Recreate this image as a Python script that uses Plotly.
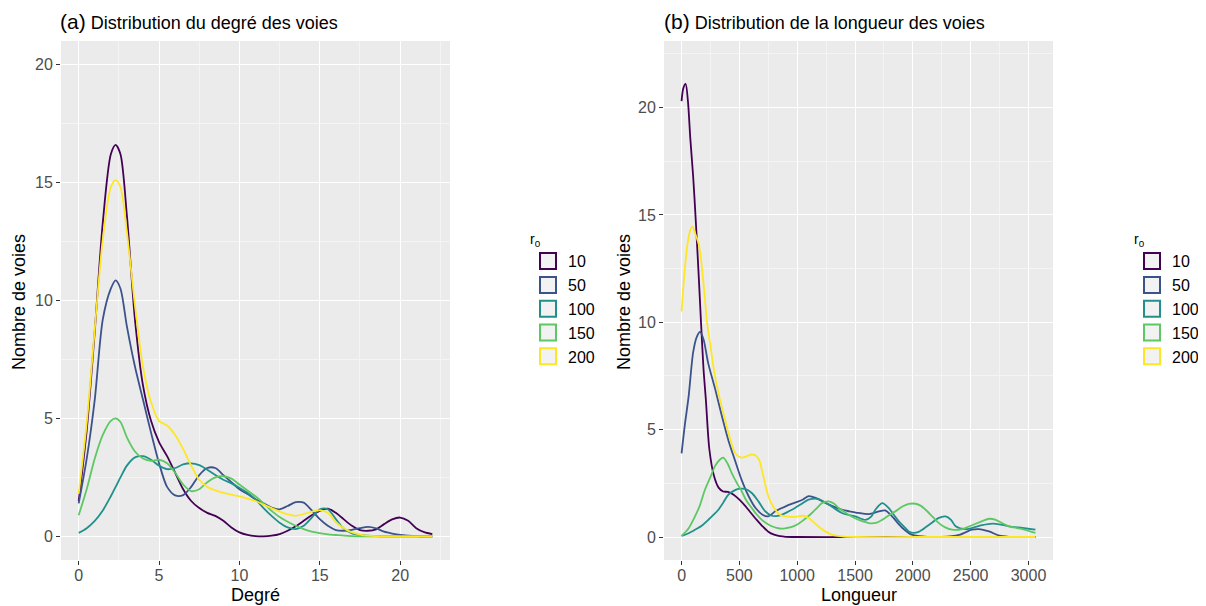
import plotly.graph_objects as go

# ── Data ──────────────────────────────────────────────────────────────────────
R0 = ["10", "50", "100", "150", "200"]
COLORS = ["#440154", "#3B528B", "#21908C", "#5DC863", "#FDE725"]

# (a) degree density, common x grid
DEG_X = [0, 0.5, 1, 1.5, 2, 2.3, 2.6, 3, 3.5, 4, 4.5, 5, 5.5, 6, 6.5, 7, 7.5, 8,
         8.5, 9, 9.5, 10, 10.5, 11, 11.5, 12, 12.5, 13, 13.5, 14, 14.5, 15, 15.5,
         16, 16.5, 17, 17.5, 18, 18.5, 19, 19.5, 20, 20.5, 21, 21.5, 22]
DEG_10 = [1.5, 4.5, 8.7, 13.3, 16.2, 16.6, 16.2, 13.6, 9.2, 6.4, 4.9, 4.0, 3.4, 2.7,
          2.0, 1.5, 1.2, 1.0, 0.87, 0.66, 0.38, 0.17, 0.06, 0.01, 0.0, 0.03, 0.1,
          0.24, 0.43, 0.66, 0.9, 1.08, 1.18, 1.0, 0.72, 0.45, 0.27, 0.24, 0.3, 0.52,
          0.72, 0.8, 0.66, 0.35, 0.18, 0.1]
DEG_50 = [1.4, 3.3, 5.8, 9.2, 10.5, 10.85, 10.5, 8.9, 7.2, 5.8, 4.4, 3.1, 2.1, 1.74,
          1.75, 2.1, 2.6, 2.9, 2.9, 2.6, 2.3, 2.0, 1.8, 1.57, 1.4, 1.22, 1.15, 1.29,
          1.45, 1.43, 1.1, 0.73, 0.45, 0.27, 0.24, 0.28, 0.35, 0.4, 0.34, 0.2, 0.12,
          0.06, 0.03, 0.01, 0.0, 0.0]
DEG_100 = [0.15, 0.35, 0.66, 1.1, 1.7, 2.1, 2.5, 3.0, 3.35, 3.4, 3.25, 3.0, 2.85, 2.9,
           3.05, 3.1, 3.02, 2.83, 2.6, 2.4, 2.25, 2.06, 1.85, 1.57, 1.2, 0.87, 0.58,
           0.38, 0.31, 0.45, 0.8, 1.15, 1.15, 0.73, 0.33, 0.13, 0.06, 0.03, 0.01, 0.0,
           0.0, 0.0, 0.0, 0.0, 0.0, 0.0]
DEG_150 = [0.9, 2.0, 3.3, 4.3, 4.9, 5.0, 4.85, 4.2, 3.6, 3.3, 3.2, 3.25, 3.1, 2.7, 2.2,
           1.92, 2.0, 2.3, 2.5, 2.55, 2.45, 2.2, 1.95, 1.7, 1.4, 1.08, 0.82, 0.62,
           0.45, 0.31, 0.2, 0.14, 0.09, 0.06, 0.03, 0.01, 0.0, 0.0, 0.0, 0.0, 0.0,
           0.0, 0.0, 0.0, 0.0, 0.0]
DEG_200 = [1.8, 4.8, 8.8, 12.6, 14.8, 15.1, 14.8, 12.9, 9.8, 7.2, 5.7, 4.9, 4.7, 4.3,
           3.7, 3.0, 2.4, 2.1, 1.95, 1.85, 1.77, 1.7, 1.6, 1.5, 1.35, 1.2, 1.05, 0.93,
           0.87, 0.95, 1.05, 1.1, 1.0, 0.6, 0.35, 0.17, 0.08, 0.03, 0.01, 0.0, 0.0,
           0.0, 0.0, 0.0, 0.0, 0.0]

# (b) length density, one x grid per curve
LEN_X_10 = [0, 15, 35, 55, 75, 100, 120, 145, 170, 190, 210, 240, 280, 320, 360, 400,
            450, 500, 550, 600, 650, 700, 750, 800, 850, 900, 1000, 1500, 2000, 2500,
            3060]
LEN_Y_10 = [20.3, 20.9, 21.1, 20.3, 18.6, 16.8, 15.0, 12.5, 9.8, 7.8, 6.4, 4.1, 2.85,
            2.3, 2.12, 2.1, 1.97, 1.74, 1.45, 1.12, 0.8, 0.5, 0.25, 0.11, 0.04, 0.01,
            0.0, 0.0, 0.0, 0.0, 0.0]
LEN_X_50 = [0, 30, 60, 100, 130, 160, 190, 230, 290, 350, 405, 460, 520, 580, 640, 700,
            750, 810, 900, 980, 1050, 1100, 1160, 1240, 1300, 1390, 1450, 1530, 1620,
            1700, 1760, 1820, 1870, 1910, 1990, 2100, 2250, 2400, 2510, 2570, 2660,
            2750, 2830, 3060]
LEN_Y_50 = [3.9, 5.3, 6.5, 8.6, 9.3, 9.55, 9.2, 8.1, 6.9, 5.6, 4.5, 3.6, 2.65, 1.9,
            1.35, 1.04, 0.96, 1.2, 1.43, 1.6, 1.75, 1.9, 1.82, 1.6, 1.45, 1.27, 1.2,
            1.12, 1.07, 1.18, 1.24, 0.96, 0.65, 0.42, 0.11, 0.02, 0.0, 0.1, 0.34, 0.37,
            0.26, 0.06, 0.01, 0.0]
LEN_X_100 = [0, 50, 116, 180, 231, 280, 318, 360, 405, 450, 491, 549, 607, 665, 723,
             780, 830, 867, 910, 954, 1000, 1040, 1098, 1185, 1272, 1330, 1387, 1450,
             1503, 1590, 1640, 1676, 1734, 1792, 1840, 1879, 1930, 1965, 2009, 2050,
             2081, 2168, 2220, 2283, 2330, 2370, 2457, 2543, 2600, 2688, 2760, 2832,
             2948, 3060]
LEN_Y_100 = [0.05, 0.15, 0.34, 0.55, 0.8, 1.05, 1.27, 1.6, 1.97, 2.15, 2.24, 2.24,
             2.05, 1.66, 1.2, 0.99, 0.98, 1.04, 1.15, 1.27, 1.42, 1.55, 1.74, 1.77,
             1.51, 1.3, 1.12, 1.02, 0.96, 0.8, 0.95, 1.27, 1.58, 1.35, 1.0, 0.73, 0.45,
             0.26, 0.19, 0.24, 0.34, 0.68, 0.88, 0.96, 0.8, 0.5, 0.37, 0.47, 0.55, 0.62,
             0.58, 0.5, 0.42, 0.34]
LEN_X_150 = [0, 60, 116, 160, 202, 250, 289, 330, 361, 400, 434, 480, 520, 560, 607,
             650, 694, 740, 780, 820, 867, 910, 954, 1000, 1040, 1085, 1127, 1170,
             1214, 1272, 1320, 1358, 1400, 1445, 1490, 1532, 1575, 1618, 1680, 1734,
             1790, 1850, 1910, 1965, 2023, 2070, 2110, 2170, 2225, 2280, 2341, 2428,
             2490, 2543, 2600, 2659, 2717, 2770, 2832, 2900, 2948, 3060]
LEN_Y_150 = [0.05, 0.4, 0.96, 1.5, 2.2, 2.8, 3.3, 3.6, 3.7, 3.4, 2.98, 2.5, 2.13, 1.7,
             1.35, 1.05, 0.8, 0.62, 0.5, 0.43, 0.39, 0.42, 0.47, 0.58, 0.73, 0.92, 1.12,
             1.35, 1.58, 1.66, 1.55, 1.35, 1.2, 1.04, 0.9, 0.8, 0.72, 0.65, 0.66, 0.8,
             1.0, 1.2, 1.42, 1.54, 1.55, 1.45, 1.27, 0.95, 0.65, 0.45, 0.34, 0.37, 0.5,
             0.62, 0.74, 0.85, 0.8, 0.65, 0.5, 0.42, 0.37, 0.19]
LEN_X_200 = [0, 25, 50, 75, 95, 120, 150, 175, 200, 220, 250, 275, 300, 332, 370, 405,
             448, 480, 520, 560, 600, 640, 670, 700, 750, 800, 850, 900, 950, 1000,
             1050, 1100, 1150, 1200, 1250, 1300, 1350, 1400, 1500, 2000, 2500, 3060]
LEN_Y_200 = [10.5, 12.3, 13.6, 14.3, 14.46, 14.1, 13.6, 12.6, 11.2, 10.0, 8.9, 7.95,
             7.2, 6.4, 5.6, 4.85, 4.1, 3.8, 3.7, 3.75, 3.84, 3.8, 3.6, 3.0, 1.9, 1.35,
             1.04, 0.96, 0.94, 0.95, 0.99, 0.89, 0.65, 0.42, 0.24, 0.11, 0.05, 0.02,
             0.0, 0.0, 0.0, 0.0]

DEG_Y = [DEG_10, DEG_50, DEG_100, DEG_150, DEG_200]
LEN_X = [LEN_X_10, LEN_X_50, LEN_X_100, LEN_X_150, LEN_X_200]
LEN_Y = [LEN_Y_10, LEN_Y_50, LEN_Y_100, LEN_Y_150, LEN_Y_200]

FONT = "Liberation Sans, Arial, sans-serif"
KEY_FILL = "#f2f2f2"

W, H = 1206, 606
OFF = 8  # the page body adds an 8px margin; place everything relative to it


def px(x):
    return (x - OFF) / W


def py(y):
    return 1 - (y - OFF) / H


fig = go.Figure()

# ── Curves ────────────────────────────────────────────────────────────────────
for name, col, ys in zip(R0, COLORS, DEG_Y):
    fig.add_trace(go.Scatter(
        x=DEG_X, y=ys, mode="lines", line=dict(color=col, width=1.8, shape="spline", smoothing=0.8),
        showlegend=False, xaxis="x", yaxis="y", name=name,
    ))
for name, col, xs, ys in zip(R0, COLORS, LEN_X, LEN_Y):
    fig.add_trace(go.Scatter(
        x=xs, y=ys, mode="lines", line=dict(color=col, width=1.8, shape="spline", smoothing=0.8),
        showlegend=False, xaxis="x2", yaxis="y2", name=name,
    ))

# legend keys (ggplot-like boxes), one legend per panel
for lg, ax in (("legend", ("x", "y")), ("legend2", ("x2", "y2"))):
    for name, col in zip(R0, COLORS):
        fig.add_trace(go.Scatter(
            x=[None], y=[None], mode="markers", name=name, legend=lg,
            xaxis=ax[0], yaxis=ax[1],
            marker=dict(symbol="square", size=16, color=KEY_FILL, line=dict(color=col, width=2)),
        ))

# ── Layout ────────────────────────────────────────────────────────────────────
PANEL_A = (61, 450)
PANEL_B = (664, 1053)
ydom = [py(560), py(41)]

axis_common = dict(
    showgrid=True, gridcolor="white", gridwidth=1.1, zeroline=False, showline=False,
    ticks="outside", ticklen=4, tickwidth=1, tickcolor="#333333",
    tickfont=dict(family=FONT, size=16, color="#4d4d4d"),
)
minor_common = dict(showgrid=True, gridcolor="#f4f4f4", gridwidth=0.6, ticks="")

leg_common = dict(
    xanchor="left", yanchor="top", y=py(226),
    bgcolor="rgba(0,0,0,0)", font=dict(family=FONT, size=16, color="black"),
    title=dict(text="r<sub>0</sub>", font=dict(family=FONT, size=14, color="black")),
    itemsizing="trace", tracegroupgap=0,
)

fig.update_layout(
    width=W, height=H,
    margin=dict(l=0, r=0, t=0, b=0),
    paper_bgcolor="white", plot_bgcolor="#ebebeb",
    font=dict(family=FONT),
    xaxis=dict(domain=[px(PANEL_A[0]), px(PANEL_A[1])], range=[-1.1, 23.1],
               tickvals=[0, 5, 10, 15, 20], minor=dict(dtick=2.5, tick0=0, **minor_common),
               anchor="y", ticklabelstandoff=-3, **axis_common),
    yaxis=dict(domain=ydom, range=[-1.0, 21.0], tickvals=[0, 5, 10, 15, 20],
               minor=dict(dtick=2.5, tick0=0, **minor_common), anchor="x", **axis_common),
    xaxis2=dict(domain=[px(PANEL_B[0]), px(PANEL_B[1])], range=[-152, 3212],
                tickvals=[0, 500, 1000, 1500, 2000, 2500, 3000],
                minor=dict(dtick=250, tick0=0, **minor_common), anchor="y2",
                ticklabelstandoff=-3, **axis_common),
    yaxis2=dict(domain=ydom, range=[-1.07, 23.1], tickvals=[0, 5, 10, 15, 20],
                minor=dict(dtick=2.5, tick0=0, **minor_common), anchor="x2", **axis_common),
    legend=dict(x=px(528), **leg_common),
    legend2=dict(x=px(1132), **leg_common),
)

# panel titles
for xpos, tag, txt in ((58, "(a)", "Distribution du degré des voies"),
                       (662, "(b)", "Distribution de la longueur des voies")):
    fig.add_annotation(
        xref="paper", yref="paper", x=px(xpos), y=py(22), xanchor="left", yanchor="middle",
        showarrow=False, text=f"<span style='font-size:21px'>{tag}</span> {txt}",
        font=dict(family=FONT, size=18, color="black"),
    )

# axis titles
title_font = dict(family=FONT, size=18, color="black")
for (x0, x1), xt, ylab_x in ((PANEL_A, "Degré", 19), (PANEL_B, "Longueur", 624)):
    fig.add_annotation(xref="paper", yref="paper", x=px((x0 + x1) / 2), y=py(595),
                       xanchor="center", yanchor="middle", showarrow=False,
                       text=xt, font=title_font)
    fig.add_annotation(xref="paper", yref="paper", x=px(ylab_x), y=py(302),
                       xanchor="center", yanchor="middle", showarrow=False, textangle=-90,
                       text="Nombre de voies", font=title_font)

fig.write_html("out.html")
